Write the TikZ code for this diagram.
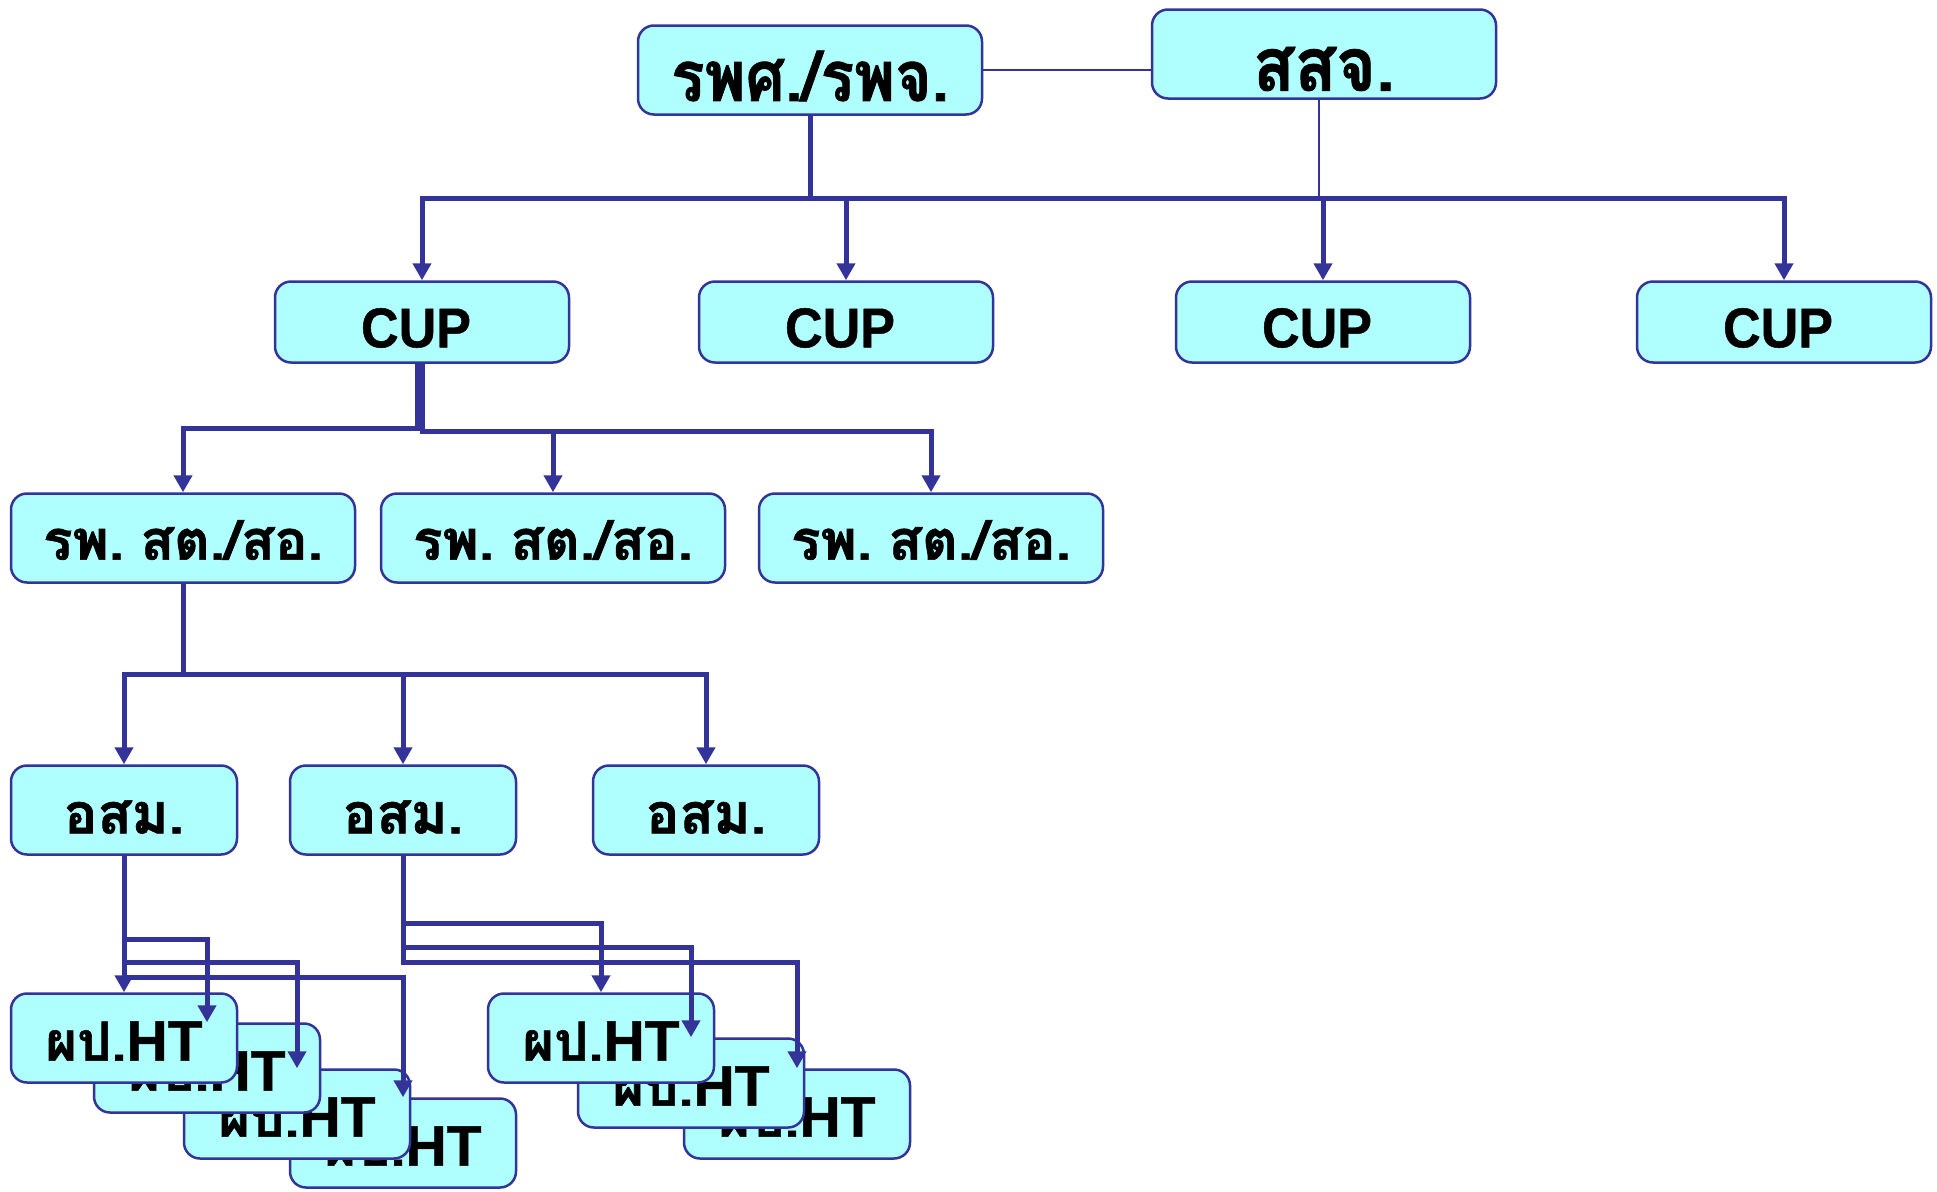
\documentclass[tikz,border=0pt]{standalone}
\usepackage{fontspec}
\usepackage{graphicx}
\usetikzlibrary{arrows.meta}
\newfontfamily\thaifont[Script=Thai, BoldFeatures={FakeBold=1.2}]{Loma}
\newfontfamily\latinfont[BoldFeatures={FakeBold=0.8}]{Liberation Sans}
\definecolor{linkblue}{RGB}{51,51,153}
\definecolor{boxcyan}{RGB}{176,255,255}
% squeeze a label sideways / drop it inside its box
\newcommand{\narrowtxt}[2]{\scalebox{#1}[1]{#2}}
\newcommand{\droptxt}[2]{\raisebox{-#1}[\height][\depth]{#2}}

\begin{document}
\begin{tikzpicture}[x=1pt, y=-1pt,
  box/.style={draw=linkblue, fill=boxcyan, line width=2.5pt, rounded corners=16pt,
    inner sep=0pt, minimum height=89, minimum width=226,
    font=\bfseries\fontsize{54}{60}\selectfont},
  wide/.style={minimum width=344},
  cupbox/.style={minimum width=294, minimum height=81},
  trunk/.style={draw=linkblue, line width=5pt},
  arr/.style={trunk, -{Triangle[width=18pt,length=17pt]}},
  link/.style={draw=linkblue, line width=2.7pt}]
  \useasboundingbox (0,0) rectangle (1937,1191);

  % head office and provincial office
  \node[box, wide] (hosp) at (810,70)
    {\droptxt{6pt}{\narrowtxt{0.89}{\thaifont\fontsize{70}{76}\selectfont รพศ./รพจ.}}};
  \node[box, wide] (ssj) at (1324,54)
    {\droptxt{15pt}{\narrowtxt{0.92}{\thaifont\fontsize{74}{80}\selectfont สสจ.}}};

  % CUP row
  \foreach \n/\x in {cup1/422, cup2/846, cup3/1323, cup4/1784}
    \node[box, cupbox] (\n) at (\x,322)
      {\hspace*{-12pt}\droptxt{6pt}{\narrowtxt{0.93}{\latinfont\fontsize{56}{62}\selectfont CUP}}};

  % sub-district health units
  \foreach \n/\x in {rps1/183, rps2/553, rps3/931}
    \node[box, wide] (\n) at (\x,538)
      {\droptxt{2pt}{\thaifont\fontsize{55}{61}\selectfont รพ. \kern-0.15em สต./สอ.}};

  % village volunteers
  \foreach \n/\x in {osm1/124, osm2/403, osm3/706}
    \node[box] (\n) at (\x,810)
      {\droptxt{7pt}{\thaifont\fontsize{56}{62}\selectfont อสม.}};

  % patients, stacked (back ones first)
  \foreach \n/\x/\y in {htD/403/1143, htC/297/1114, htB/207/1068, htA/124/1038,
                        htG/797/1114, htF/691/1083, htE/601/1038}
    \node[box] (\n) at (\x,\y)
      {\droptxt{3pt}{{\thaifont ผป.}{\latinfont\fontsize{57}{62}\selectfont HT}}};

  % top links
  \coordinate (bus) at (810,198);
  \draw[link] (hosp.east) -- (hosp.east -| ssj.west);
  \draw[link] ([xshift=-5pt]ssj.south) -- ([xshift=-5pt]ssj.south |- bus);
  \foreach \n in {cup1,cup2,cup3,cup4}
    \draw[arr] (hosp.south) -- (bus) -| (\n.north);

  % CUP to units
  \draw[arr] ([xshift=-5pt]cup1.south) -- ++(0,65) -| (rps1.north);
  \draw[arr] (cup1.south) -- ++(0,68) -| (rps2.north);
  \draw[arr] (cup1.south) -- ++(0,68) -| (rps3.north);

  % unit to volunteers
  \foreach \n in {osm1,osm2,osm3}
    \draw[arr] (rps1.south) -- ++(0,91) -| (\n.north);

  % volunteers to patients
  \draw[arr] (osm1.south) -- (htA.north);
  \draw[arr] (osm1.south) -- ++(0,84) -| (htB.north);
  \draw[arr] (osm1.south) -- ++(0,107) -| (htC.north);
  \draw[arr] (osm1.south) -- ++(0,122) -| (htD.north);
  \draw[arr] (osm2.south) -- ++(0,68) -| (htE.north);
  \draw[arr] (osm2.south) -- ++(0,92) -| (htF.north);
  \draw[arr] (osm2.south) -- ++(0,107) -| (htG.north);
\end{tikzpicture}
\end{document}
